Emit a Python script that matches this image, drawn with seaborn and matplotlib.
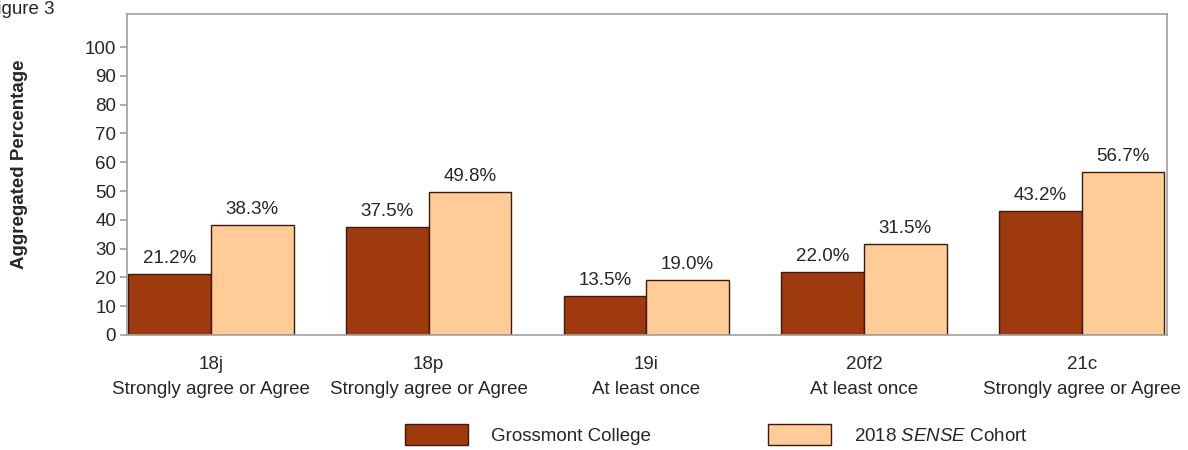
import pandas as pd
import numpy as np
import seaborn as sns
import matplotlib.pyplot as plt

# data
items = ['18j\nStrongly agree or Agree', '18p\nStrongly agree or Agree', '19i\nAt least once',
         '20f2\nAt least once', '21c\nStrongly agree or Agree']
college = [21.2, 37.5, 13.5, 22.0, 43.2]
cohort = [38.3, 49.8, 19.0, 31.5, 56.7]
groups = ['Grossmont College', r'2018 $\it{SENSE}$ Cohort']
colors = ['#9E3A0E', '#FFCB96']

sns.set_theme(style='white')
plt.rcParams['font.family'] = ['Liberation Sans', 'DejaVu Sans']
plt.rcParams['mathtext.fontset'] = 'custom'
plt.rcParams['mathtext.rm'] = 'Liberation Sans'
plt.rcParams['mathtext.it'] = 'Liberation Sans:italic'

df = pd.DataFrame({
    'item': items * 2,
    'value': college + cohort,
    'group': [groups[0]] * len(items) + [groups[1]] * len(items),
})

fig = plt.figure(figsize=(11.88, 4.5), dpi=100)
ax = fig.add_axes([0.107, 0.2556, 0.875, 0.7134])

sns.barplot(data=df, x='item', y='value', hue='group', order=items, hue_order=groups,
            palette=dict(zip(groups, colors)), saturation=1, width=0.76,
            edgecolor='#3a1a0a', linewidth=1, ax=ax)

for cont in ax.containers:
    ax.bar_label(cont, fmt='%.1f%%', padding=5, fontsize=13.5)

ax.set_ylim(0, 111.5)
ax.set_xlim(-0.385, 4.39)
ax.set_yticks(np.arange(0, 101, 10))
ax.set_xlabel('')
ax.set_ylabel('Aggregated Percentage', fontsize=13.5, fontweight='bold')
ax.yaxis.set_label_coords(-0.095, 0.533)

for s in ax.spines.values():
    s.set_color('#a0a0a0')
    s.set_linewidth(1.2)
ax.tick_params(axis='y', left=True, length=5, width=1.2, color='#a0a0a0', pad=3, labelsize=13.5)
ax.tick_params(axis='x', bottom=False, length=0, pad=15, labelsize=13.5)
for lbl in ax.get_xticklabels():
    lbl.set_linespacing(1.6)

ax.legend(loc='center', bbox_to_anchor=(0.603, 0.035), bbox_transform=fig.transFigure,
          ncol=2, frameon=False, fontsize=13.5, handlelength=3.36, handleheight=1.33,
          handletextpad=1.25, columnspacing=6.2, borderpad=0)

# the caption is cut at the left edge in the original
fig.text(54 / 1188, 1 - 9 / 450, 'Figure 3', ha='right', va='center', fontsize=13.5)

plt.savefig('out.png', dpi=100)
